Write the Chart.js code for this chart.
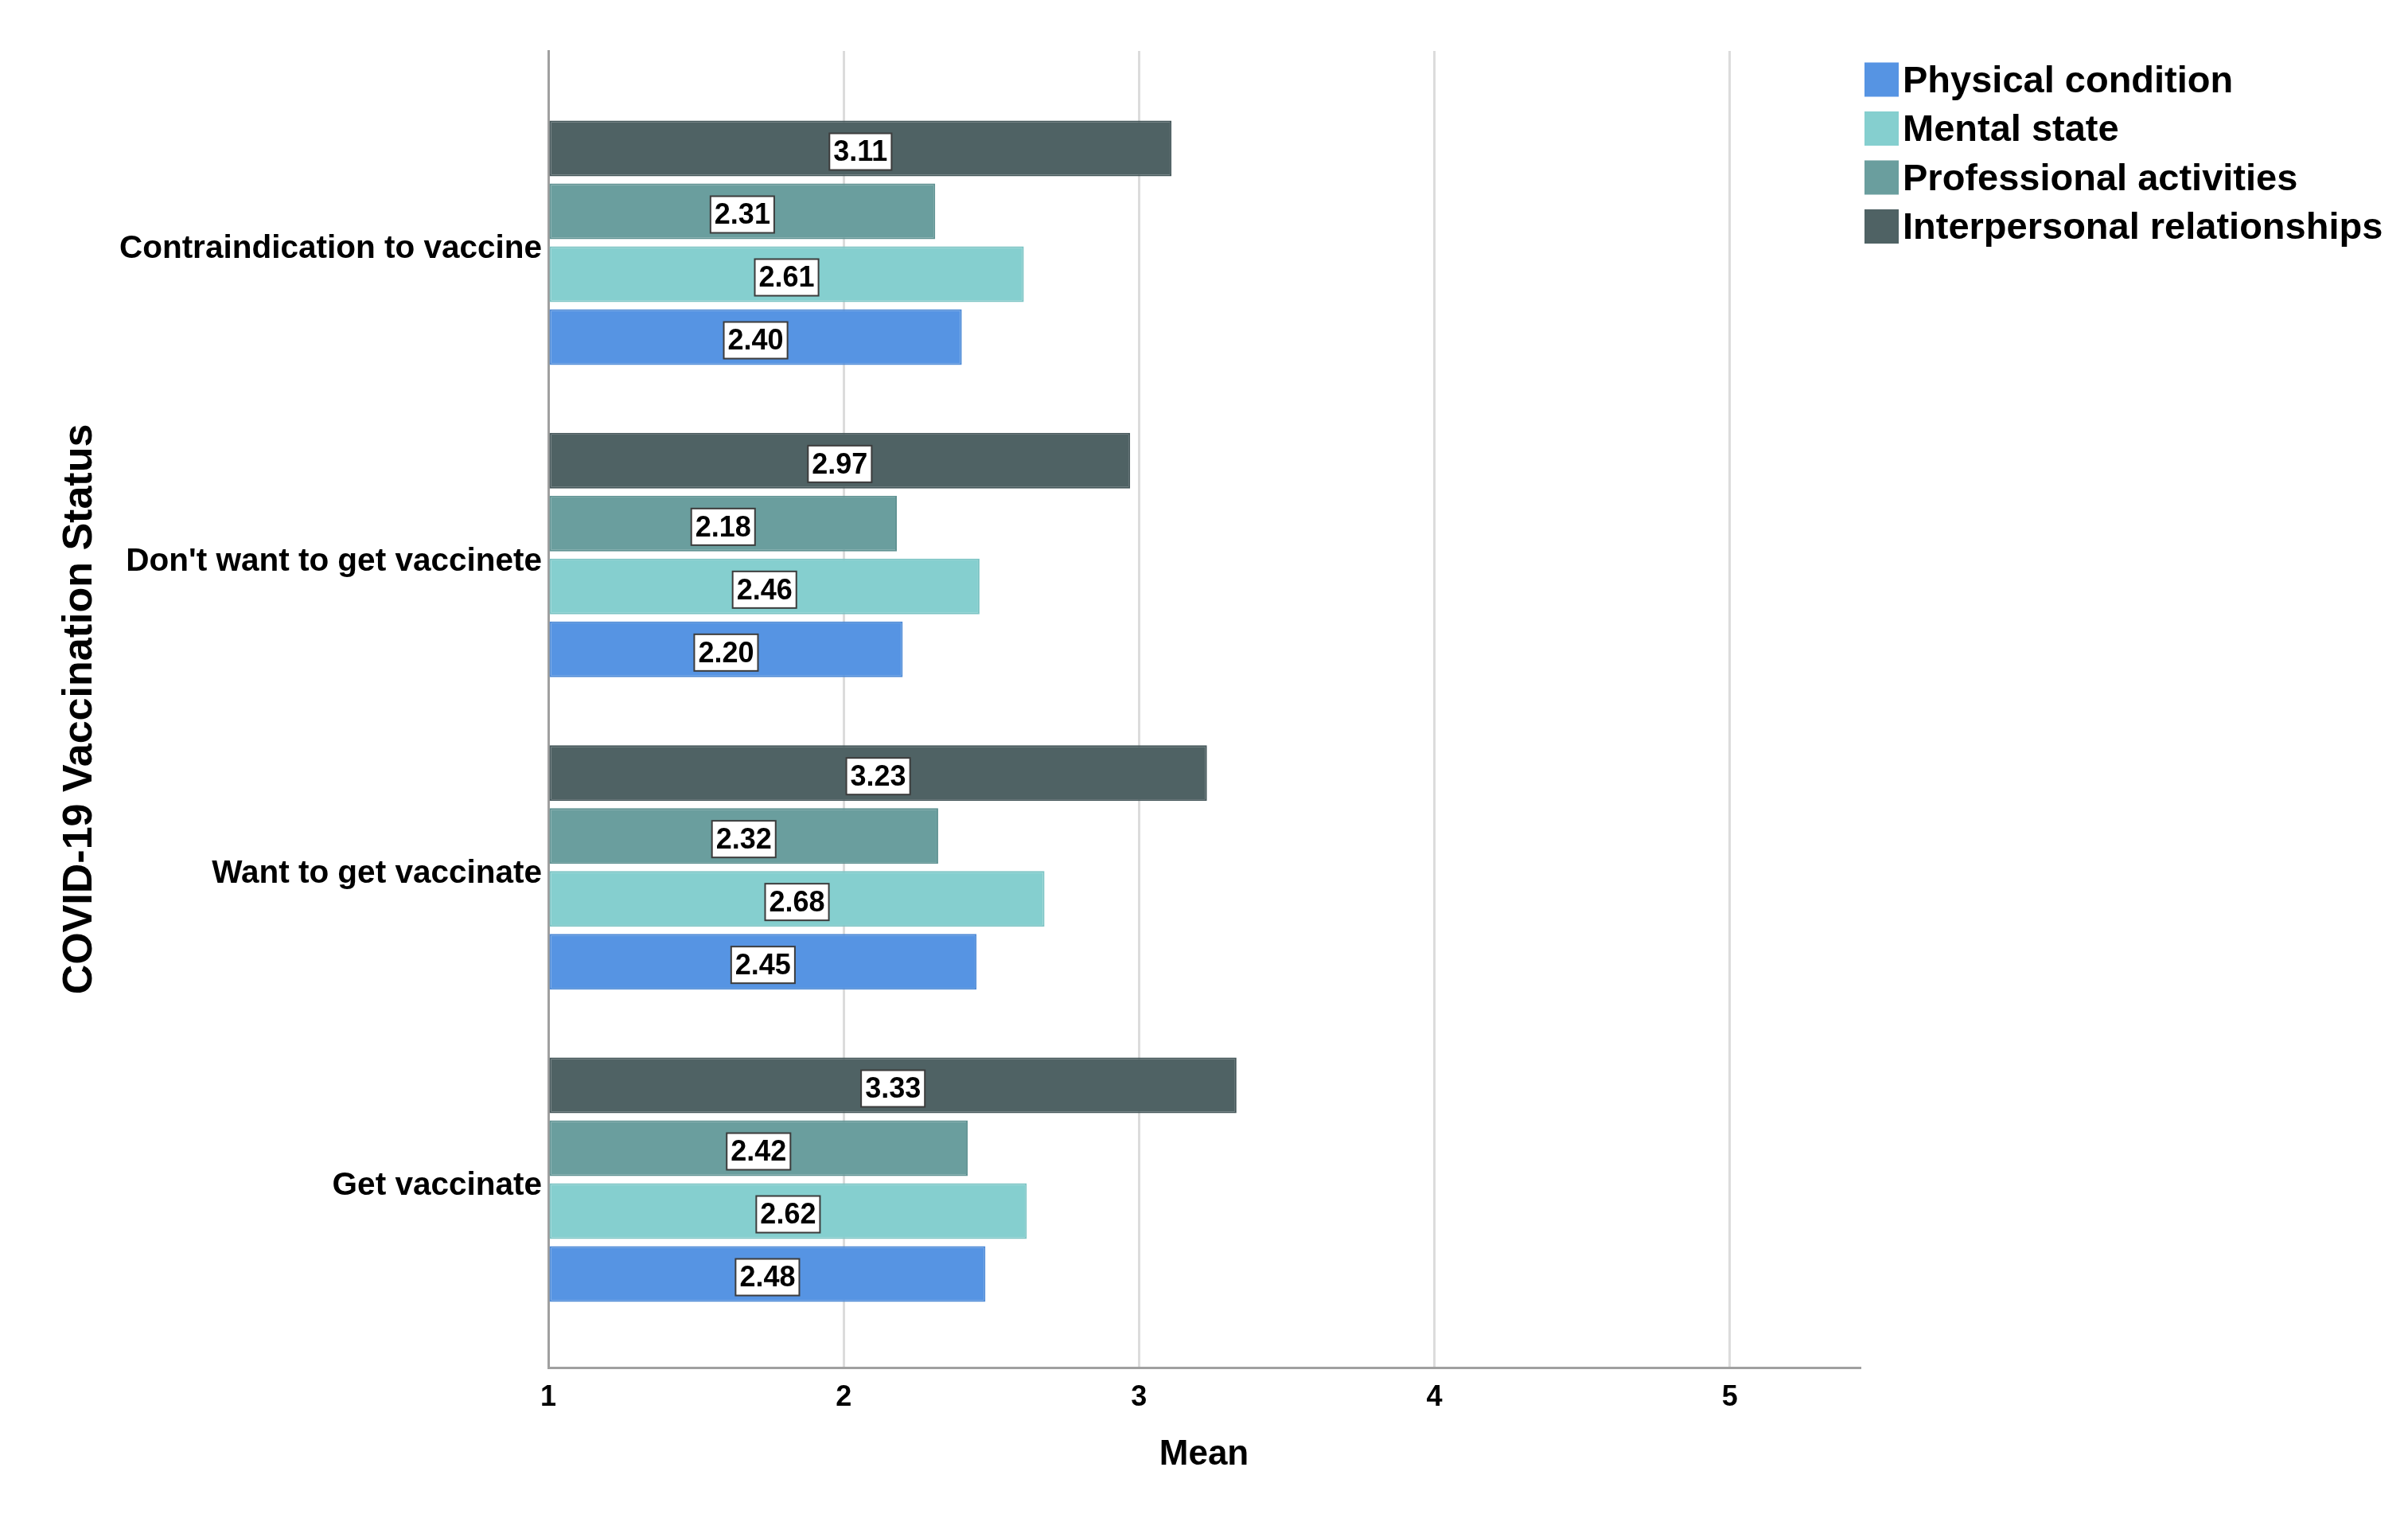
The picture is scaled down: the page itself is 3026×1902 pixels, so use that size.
<!DOCTYPE html>
<html>
<head>
<meta charset="utf-8">
<script src="https://cdn.jsdelivr.net/npm/chart.js@4"></script>
<style>
  html, body { margin: 0; padding: 0; background: #ffffff; }
  canvas { display: block; }
</style>
</head>
<body>
<canvas id="c" width="3026" height="1902"></canvas>
<script>
// ---- data ----
const categories = ["Contraindication to vaccine", "Don't want to get vaccinete", "Want to get vaccinate", "Get vaccinate"];
const physicalCondition = [2.40, 2.20, 2.45, 2.48];
const mentalState = [2.61, 2.46, 2.68, 2.62];
const professionalActivities = [2.31, 2.18, 2.32, 2.42];
const interpersonalRelationships = [3.11, 2.97, 3.23, 3.33];
const xTickValues = [1, 2, 3, 4, 5];
const xTitle = "Mean";
const yTitle = "COVID-19 Vaccination Status";

const FONT = "'Liberation Sans', Arial, sans-serif";

function pts(arr) { return arr.map((v, i) => ({ x: v, y: i })); }

// datasets listed top-to-bottom within each group
const datasets = [
  { label: 'Interpersonal relationships', data: pts(interpersonalRelationships), backgroundColor: '#4f6264', borderColor: '#45575a' },
  { label: 'Professional activities', data: pts(professionalActivities), backgroundColor: '#6a9e9e', borderColor: '#5f9292' },
  { label: 'Mental state', data: pts(mentalState), backgroundColor: '#85cfcf', borderColor: '#7cc4c4' },
  { label: 'Physical condition', data: pts(physicalCondition), backgroundColor: '#5694e3', borderColor: '#4e8ad6' }
].map(d => Object.assign(d, { base: 1, borderWidth: 2, borderSkipped: false, categoryPercentage: 0.8054, barPercentage: 0.886 }));

const valueLabels = {
  id: 'valueLabels',
  afterDatasetsDraw(chart) {
    const ctx = chart.ctx;
    ctx.save();
    ctx.font = `bold 36px ${FONT}`;
    ctx.textAlign = 'center';
    ctx.textBaseline = 'middle';
    chart.data.datasets.forEach((ds, di) => {
      const meta = chart.getDatasetMeta(di);
      meta.data.forEach((bar, i) => {
        const txt = ds.data[i].x.toFixed(2);
        const cx = (bar.x + bar.base) / 2;
        const cy = bar.y + 4;
        const w = ctx.measureText(txt).width + 10;
        const h = 46;
        ctx.fillStyle = '#ffffff';
        ctx.fillRect(cx - w / 2, cy - h / 2, w, h);
        ctx.lineWidth = 2;
        ctx.strokeStyle = '#3c3c3c';
        ctx.strokeRect(cx - w / 2, cy - h / 2, w, h);
        ctx.fillStyle = '#000000';
        ctx.fillText(txt, cx, cy + 2);
      });
    });
    ctx.restore();
  }
};

const sideLegend = {
  id: 'sideLegend',
  afterDraw(chart) {
    const ctx = chart.ctx;
    ctx.save();
    ctx.font = `bold 47px ${FONT}`;
    ctx.textAlign = 'left';
    ctx.textBaseline = 'middle';
    const order = chart.data.datasets.slice().reverse();
    const x0 = 2343, y0 = 103, step = 61.5, box = 43;
    order.forEach((ds, k) => {
      const cy = y0 + k * step;
      ctx.fillStyle = ds.backgroundColor;
      ctx.fillRect(x0, cy - box / 2 - 3, box, box);
      ctx.fillStyle = '#000000';
      ctx.fillText(ds.label, x0 + box + 5, cy);
    });
    ctx.restore();
  }
};

new Chart(document.getElementById('c'), {
  type: 'bar',
  data: { datasets },
  plugins: [valueLabels, sideLegend],
  options: {
    indexAxis: 'y',
    responsive: false,
    devicePixelRatio: 1,
    animation: false,
    layout: { padding: { left: 0, top: 64, right: 689, bottom: 0 } },
    plugins: { legend: { display: false }, tooltip: { enabled: false } },
    scales: {
      x: {
        type: 'linear',
        position: 'bottom',
        min: 1,
        max: 5.44,
        offset: false,
        afterBuildTicks: (axis) => { axis.ticks = xTickValues.map(v => ({ value: v })); },
        afterFit: (axis) => { axis.height = 184; },
        ticks: { color: '#000000', font: { family: FONT, size: 36, weight: 'bold' }, padding: 16, maxRotation: 0 },
        grid: {
          drawTicks: false,
          lineWidth: 3,
          color: (c) => (c.tick && c.tick.value === 1) ? 'rgba(0,0,0,0)' : '#dcdcdc'
        },
        border: { display: true, color: '#a0a0a0', width: 3 },
        title: { display: true, text: xTitle, color: '#000000', font: { family: FONT, size: 44, weight: 'bold' }, padding: { top: 0, bottom: 48 } }
      },
      y: {
        type: 'linear',
        position: 'left',
        reverse: true,
        offset: false,
        min: -0.6143,
        max: 3.6015,
        afterBuildTicks: (axis) => { axis.ticks = categories.map((c, i) => ({ value: i })); },
        afterFit: (axis) => { axis.width = 689; },
        ticks: {
          color: '#000000',
          font: { family: FONT, size: 40.5, weight: 'bold' },
          padding: 8,
          labelOffset: 8,
          callback: (v) => categories[v] !== undefined ? categories[v] : ''
        },
        grid: { display: false, drawTicks: false, offset: false },
        border: { display: true, color: '#a0a0a0', width: 3 },
        title: { display: true, text: yTitle, color: '#000000', font: { family: FONT, size: 52, weight: 'bold' }, padding: { top: 69, bottom: 0 } }
      }
    }
  }
});
</script>
</body>
</html>
